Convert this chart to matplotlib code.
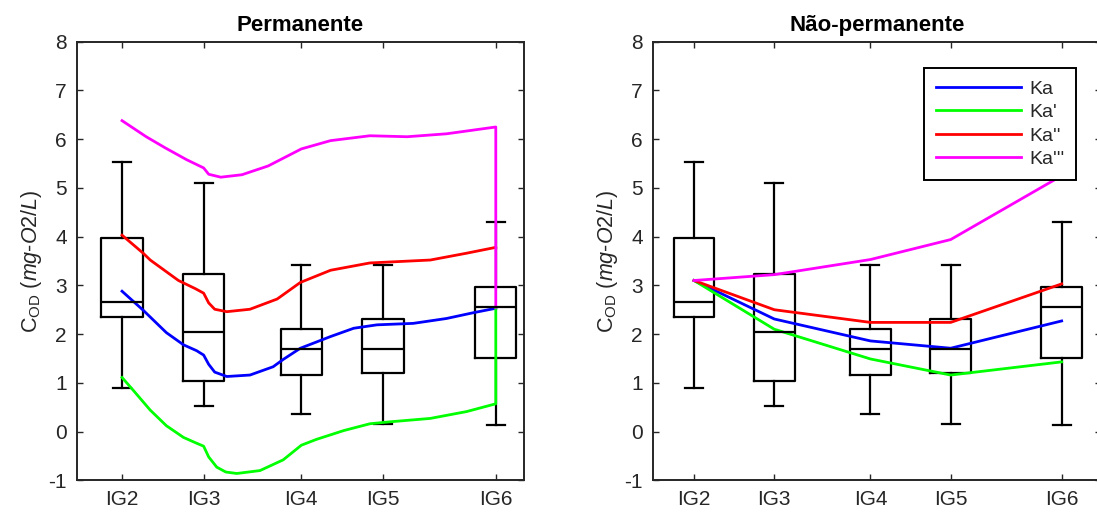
import numpy as np
import matplotlib
matplotlib.use("Agg")
import matplotlib.pyplot as plt

plt.rcParams['font.family'] = ['Liberation Sans', 'DejaVu Sans']
plt.rcParams['mathtext.fontset'] = 'custom'
plt.rcParams['mathtext.rm'] = 'Liberation Sans'
plt.rcParams['mathtext.it'] = 'Liberation Sans:italic'
plt.rcParams['axes.unicode_minus'] = False

# stations (distance along the river, arbitrary units)
stations = ['IG2', 'IG3', 'IG4', 'IG5', 'IG6']
pos = [0, 8.1, 17.8, 25.9, 37.1]

# box stats: lower whisker, q1, median, q3, upper whisker
whislo = [0.90, 0.53, 0.37, 0.15, 0.13]
q1 = [2.35, 1.04, 1.17, 1.21, 1.51]
med = [2.65, 2.04, 1.70, 1.70, 2.56]
q3 = [3.97, 3.23, 2.11, 2.31, 2.96]
whishi = [5.53, 5.11, 3.41, 3.42, 4.31]

# Permanente (steady) model curves
ka_x = [0, 2.1, 4.4, 6.1, 7.4, 8.1, 8.6, 9.2, 10.4, 12.7, 15.0, 16.0, 17.7, 20.7, 23.0, 25.3, 28.9, 32.2, 34.9, 37.1]
ka_y = [2.88, 2.49, 2.03, 1.78, 1.66, 1.57, 1.38, 1.22, 1.13, 1.16, 1.33, 1.48, 1.71, 1.95, 2.12, 2.19, 2.22, 2.32, 2.44, 2.53]

ka1_x = [0, 1.1, 2.8, 4.4, 6.1, 7.3, 8.1, 8.6, 9.4, 10.3, 11.4, 13.7, 16.0, 17.8, 19.3, 22.0, 24.6, 26.6, 30.6, 34.2, 37.1, 37.1]
ka1_y = [1.11, 0.85, 0.44, 0.12, -0.12, -0.23, -0.30, -0.52, -0.73, -0.83, -0.86, -0.80, -0.58, -0.28, -0.16, 0.02, 0.16, 0.20, 0.27, 0.41, 0.57, 2.55]

ka2_x = [0, 2.1, 2.8, 5.6, 7.3, 8.1, 8.6, 9.2, 10.4, 12.7, 15.4, 17.7, 20.7, 24.6, 26.6, 30.6, 34.2, 37.1]
ka2_y = [4.03, 3.66, 3.52, 3.10, 2.93, 2.84, 2.64, 2.51, 2.46, 2.51, 2.72, 3.06, 3.31, 3.46, 3.48, 3.52, 3.66, 3.78]

ka3_x = [0, 2.4, 4.3, 6.4, 8.1, 8.6, 9.8, 11.9, 14.5, 17.8, 20.7, 24.6, 28.3, 32.2, 37.1, 37.1]
ka3_y = [6.38, 6.05, 5.82, 5.58, 5.41, 5.28, 5.22, 5.27, 5.45, 5.80, 5.97, 6.07, 6.05, 6.11, 6.25, 2.55]

# Nao-permanente (unsteady) values at the stations
np_ka = [3.10, 2.31, 1.86, 1.71, 2.27]
np_ka1 = [3.10, 2.10, 1.49, 1.16, 1.43]
np_ka2 = [3.10, 2.50, 2.24, 2.24, 3.03]
np_ka3 = [3.10, 3.22, 3.53, 3.94, 5.25]

labels = ['Ka', "Ka'", "Ka''", "Ka'''"]
colors = ['#0000ff', '#00ff00', '#ff0000', '#ff00ff']
txt_col = '#262626'

stats = []
for i in range(len(stations)):
    stats.append({'whislo': whislo[i], 'q1': q1[i], 'med': med[i],
                  'q3': q3[i], 'whishi': whishi[i], 'fliers': []})

W, H = 1097, 516
fig = plt.figure(figsize=(W / 100, H / 100), dpi=100)
ax1 = fig.add_axes([76.7 / W, 1 - 480.3 / H, 447.3 / W, 438.6 / H])
ax2 = fig.add_axes([652.7 / W, 1 - 480.3 / H, 448.3 / W, 438.6 / H])


def style(ax, title, xlim):
    blk = dict(color='black', linewidth=1.6)
    ax.bxp(stats, positions=pos, widths=4.1, capwidths=1.8, showfliers=False,
           boxprops=blk, whiskerprops=blk, capprops=blk, medianprops=blk,
           manage_ticks=False)
    ax.set_xlim(xlim)
    ax.set_ylim(-1, 8)
    ax.set_yticks(range(-1, 9))
    ax.set_xticks(pos)
    ax.set_xticklabels(stations)
    ax.tick_params(direction='in', length=4.5, width=1.0, labelsize=15,
                   colors=txt_col, top=True, right=True, pad=7)
    for s in ax.spines.values():
        s.set_linewidth(1.4)
        s.set_color(txt_col)
    ax.set_title(title, fontsize=16, fontweight='bold', pad=8)
    ax.set_ylabel(r'C$_{\mathrm{OD}}$ $\mathit{(mg}$-$\mathit{O2/L)}$',
                  fontsize=15.5, color=txt_col, labelpad=3)


style(ax1, 'Permanente', (-4.5, 39.9))
ax1.plot(ka_x, ka_y, color=colors[0], lw=2)
ax1.plot(ka1_x, ka1_y, color=colors[1], lw=2)
ax1.plot(ka2_x, ka2_y, color=colors[2], lw=2)
ax1.plot(ka3_x, ka3_y, color=colors[3], lw=2)

style(ax2, 'Não-permanente', (-4.17, 41.07))
for vals, c, lab in zip([np_ka, np_ka1, np_ka2, np_ka3], colors, labels):
    ax2.plot(pos, vals, color=c, lw=2, label=lab)

leg = ax2.legend(loc='upper right', bbox_to_anchor=(1076 / W, 1 - 68.4 / H),
                 bbox_transform=fig.transFigure, borderaxespad=0,
                 fontsize=14, handlelength=4.4, handletextpad=0.4,
                 labelspacing=0.3, borderpad=0.6, fancybox=False,
                 framealpha=1)
leg.get_frame().set_edgecolor('black')
leg.get_frame().set_linewidth(1.4)
for t in leg.get_texts():
    t.set_color(txt_col)

fig.savefig('out.png', dpi=100)
